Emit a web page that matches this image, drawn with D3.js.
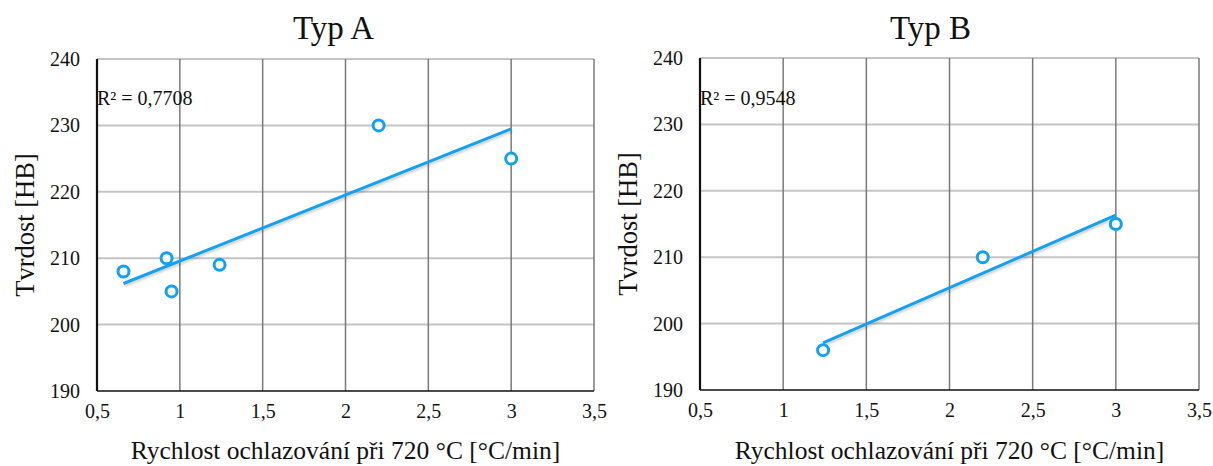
<!DOCTYPE html>
<html>
<head>
<meta charset="utf-8">
<script src="https://cdn.jsdelivr.net/npm/d3@7"></script>
<style>
  html, body { margin: 0; padding: 0; background: #fff; }
  svg { display: block; }
  svg text { font-family: 'Liberation Serif', 'Times New Roman', serif; fill: #111; }
</style>
</head>
<body>
<svg id="chart" width="1213" height="466"></svg>
<script>
// Hardness vs. cooling rate at 720 °C, two material types
const titles = ["Typ A", "Typ B"];
const rateA = [0.66, 0.92, 0.95, 1.24, 2.2, 3.0];
const hardA = [208, 210, 205, 209, 230, 225];
const rateB = [1.24, 2.2, 3.0];
const hardB = [196, 210, 215];
const r2Labels = ["R² = 0,7708", "R² = 0,9548"];
const xTicks = [0.5, 1, 1.5, 2, 2.5, 3, 3.5];
const yTicks = [190, 200, 210, 220, 230, 240];
const xTitle = "Rychlost ochlazování při 720 °C [°C/min]";
const yTitle = "Tvrdost [HB]";

const blue = "#12a0f3";
const serif = "'Liberation Serif', 'Times New Roman', serif";
const svg = d3.select("#chart");
const fmt = v => String(v).replace(".", ",");

const defs = svg.append("defs");
const f = defs.append("filter").attr("id", "lineShadow")
  .attr("x", "-5%").attr("y", "-20%").attr("width", "110%").attr("height", "140%");
f.append("feDropShadow").attr("dx", 1).attr("dy", 2).attr("stdDeviation", 1.2)
  .attr("flood-color", "#000").attr("flood-opacity", 0.18);

// least-squares line
function fit(xs, ys) {
  const n = xs.length, mx = d3.mean(xs), my = d3.mean(ys);
  let sxy = 0, sxx = 0;
  for (let i = 0; i < n; i++) { sxy += (xs[i] - mx) * (ys[i] - my); sxx += (xs[i] - mx) ** 2; }
  const b = sxy / sxx;
  return { b, a: my - b * mx };
}

const panels = [
  { xs: rateA, ys: hardA, left: 97, right: 594, top: 59, bottom: 391, title: titles[0], r2: r2Labels[0], tdx: -12 },
  { xs: rateB, ys: hardB, left: 700, right: 1199, top: 58, bottom: 390, title: titles[1], r2: r2Labels[1], tdx: -19 }
];

panels.forEach(p => {
  const x = d3.scaleLinear().domain([0.5, 3.5]).range([p.left, p.right]);
  const y = d3.scaleLinear().domain([190, 240]).range([p.bottom, p.top]);
  const g = svg.append("g");

  // horizontal gridlines
  g.append("g").selectAll("line").data(yTicks.slice(1)).join("line")
    .attr("x1", p.left).attr("x2", p.right)
    .attr("y1", d => y(d)).attr("y2", d => y(d))
    .attr("stroke", "#c4c4c4").attr("stroke-width", 2);
  // vertical gridlines
  g.append("g").selectAll("line").data(xTicks.slice(1)).join("line")
    .attr("x1", d => x(d)).attr("x2", d => x(d))
    .attr("y1", p.top).attr("y2", p.bottom)
    .attr("stroke", "#7a7a7a").attr("stroke-width", 1.5);

  // axes
  const yAxis = g.append("g").attr("transform", `translate(${p.left},0)`)
    .call(d3.axisLeft(y).tickValues(yTicks).tickSize(0).tickPadding(17));
  yAxis.select(".domain").attr("stroke", "#111").attr("stroke-width", 2.2)
    .attr("d", `M0,${p.top}V${p.bottom}`);
  const xAxis = g.append("g").attr("transform", `translate(0,${p.bottom})`)
    .call(d3.axisBottom(x).tickValues(xTicks).tickFormat(fmt).tickSize(0).tickPadding(13));
  xAxis.select(".domain").attr("stroke", "#111").attr("stroke-width", 1.6)
    .attr("d", `M${p.left},0H${p.right}`);
  [yAxis, xAxis].forEach(ax => ax.attr("font-family", serif).attr("font-size", 20));
  g.selectAll(".tick text").attr("fill", "#111");

  // trendline
  const { a, b } = fit(p.xs, p.ys);
  const x0 = d3.min(p.xs), x1 = d3.max(p.xs);
  g.append("line")
    .attr("x1", x(x0)).attr("y1", y(a + b * x0))
    .attr("x2", x(x1)).attr("y2", y(a + b * x1))
    .attr("stroke", blue).attr("stroke-width", 3)
    .attr("filter", "url(#lineShadow)");

  // measured points
  g.append("g").selectAll("circle").data(p.xs.map((v, i) => [v, p.ys[i]])).join("circle")
    .attr("cx", d => x(d[0])).attr("cy", d => y(d[1])).attr("r", 5.5)
    .attr("fill", "#fff").attr("stroke", blue).attr("stroke-width", 3);

  // R² annotation
  g.append("text").attr("x", p.left).attr("y", 105)
    .attr("font-size", 20).text(p.r2);

  // titles
  const cx = (p.left + p.right) / 2;
  g.append("text").attr("x", cx + p.tdx).attr("y", 39).attr("text-anchor", "middle")
    .attr("font-size", 33).text(p.title);
  g.append("text").attr("x", cx).attr("y", 459).attr("text-anchor", "middle")
    .attr("font-size", 25.5).text(xTitle);
  g.append("text")
    .attr("transform", `translate(${p.left - 63},${(p.top + p.bottom) / 2}) rotate(-90)`)
    .attr("text-anchor", "middle")
    .attr("font-size", 26.5).text(yTitle);
});
</script>
</body>
</html>
